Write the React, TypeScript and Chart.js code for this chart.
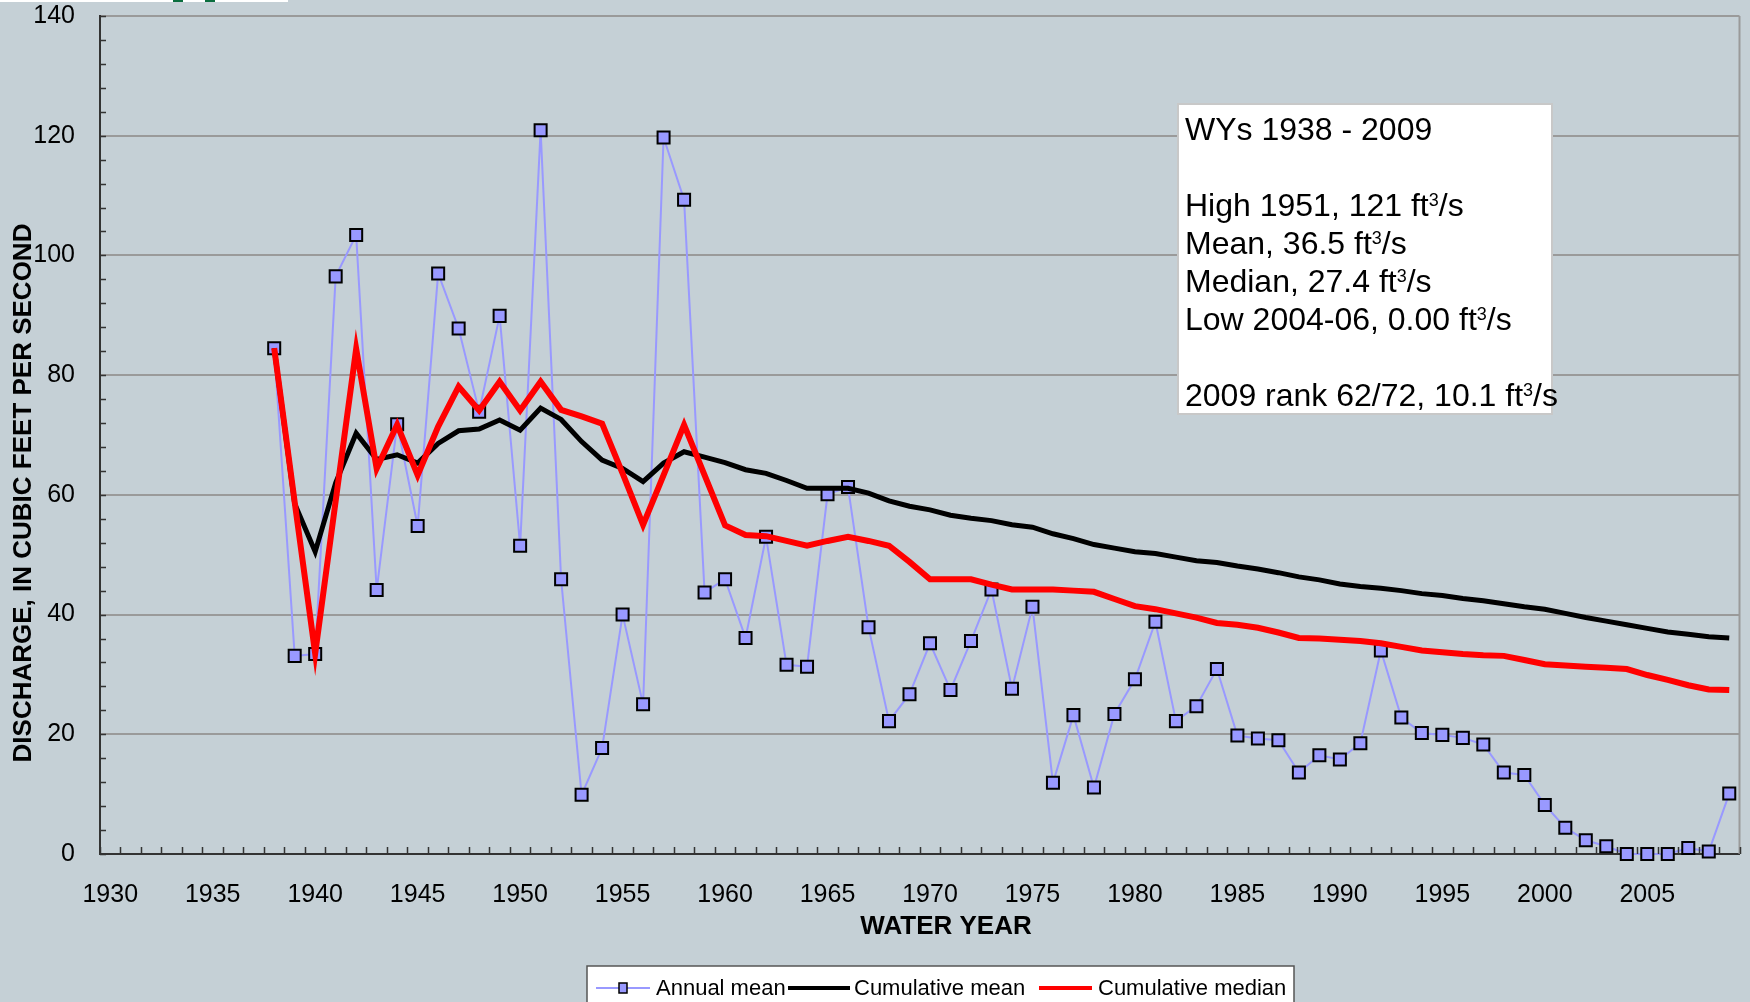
import React, { useEffect, useRef } from 'react';
import { Chart, registerables } from 'chart.js';

Chart.register(...registerables);

const FONT = '"Liberation Sans", Arial, Helvetica, sans-serif';

const years = [
  1938, 1939, 1940, 1941, 1942, 1943, 1944, 1945, 1946, 1947,
  1948, 1949, 1950, 1951, 1952, 1953, 1954, 1955, 1956, 1957,
  1958, 1959, 1960, 1961, 1962, 1963, 1964, 1965, 1966, 1967,
  1968, 1969, 1970, 1971, 1972, 1973, 1974, 1975, 1976, 1977,
  1978, 1979, 1980, 1981, 1982, 1983, 1984, 1985, 1986, 1987,
  1988, 1989, 1990, 1991, 1992, 1993, 1994, 1995, 1996, 1997,
  1998, 1999, 2000, 2001, 2002, 2003, 2004, 2005, 2006, 2007,
  2008, 2009,
];

const annualMean = [
  84.5, 33.1, 33.4, 96.5, 103.4, 44.1, 71.8, 54.8, 97.0, 87.8,
  73.9, 89.9, 51.5, 120.9, 45.9, 9.9, 17.7, 40.0, 25.0, 119.7,
  109.3, 43.7, 45.9, 36.1, 53.0, 31.6, 31.3, 60.1, 61.3, 37.9,
  22.2, 26.7, 35.2, 27.4, 35.6, 44.2, 27.6, 41.3, 11.9, 23.2,
  11.1, 23.4, 29.2, 38.8, 22.2, 24.7, 30.9, 19.8, 19.3, 19.0,
  13.6, 16.5, 15.8, 18.5, 34.0, 22.8, 20.2, 19.9, 19.4, 18.3,
  13.6, 13.2, 8.2, 4.4, 2.3, 1.3, 0.0, 0.0, 0.0, 1.0,
  0.4, 10.1,
];

const cumulativeMean = [
  84.5, 58.5, 50.5, 62.0, 70.3, 65.9, 66.7, 65.3, 68.6, 70.7,
  71.0, 72.5, 70.8, 74.5, 72.6, 68.9, 65.8, 64.4, 62.2, 65.3,
  67.2, 66.3, 65.4, 64.2, 63.6, 62.4, 61.1, 61.1, 61.1, 60.3,
  59.0, 58.1, 57.5, 56.6, 56.1, 55.7, 55.0, 54.6, 53.5, 52.7,
  51.7, 51.1, 50.5, 50.2, 49.6, 49.0, 48.7, 48.1, 47.6, 47.0,
  46.3, 45.8, 45.1, 44.7, 44.4, 44.0, 43.5, 43.2, 42.7, 42.3,
  41.8, 41.3, 40.9, 40.2, 39.5, 38.9, 38.3, 37.7, 37.1, 36.7,
  36.3, 36.1,
];

const cumulativeMedian = [
  84.5, 58.8, 33.5, 59.0, 84.4, 64.4, 71.7, 63.3, 71.4, 78.1,
  74.1, 78.9, 74.1, 78.9, 74.2, 73.1, 71.9, 63.6, 55.0, 63.3,
  71.7, 63.3, 54.9, 53.3, 53.1, 52.3, 51.5, 52.3, 53.0, 52.3,
  51.5, 48.8, 45.9, 45.9, 45.9, 45.0, 44.2, 44.2, 44.2, 44.0,
  43.8, 42.6, 41.4, 40.9, 40.2, 39.5, 38.6, 38.3, 37.8, 37.0,
  36.1, 36.0, 35.8, 35.6, 35.2, 34.6, 34.0, 33.7, 33.4, 33.2,
  33.1, 32.4, 31.7, 31.5, 31.3, 31.1, 30.9, 29.9, 29.1, 28.2,
  27.5, 27.4,
];

const xTickLabels = [1930, 1935, 1940, 1945, 1950, 1955, 1960, 1965, 1970, 1975, 1980, 1985, 1990, 1995, 2000, 2005];
const yTickValues = [0, 20, 40, 60, 80, 100, 120, 140];

const seriesLabels = ['Annual mean', 'Cumulative mean', 'Cumulative median'];
const xAxisTitle = 'WATER YEAR';
const yAxisTitle = 'DISCHARGE, IN CUBIC FEET PER SECOND';

const noteLines = [
  'WYs 1938 - 2009',
  '',
  'High 1951, 121 ft³/s',
  'Mean, 36.5 ft³/s',
  'Median, 27.4 ft³/s',
  'Low 2004-06, 0.00 ft³/s',
  '',
  '2009 rank 62/72, 10.1 ft³/s',
];

const BG = '#c5d0d6';
const GRID = '#9a9a9a';

function drawSupText(ctx: CanvasRenderingContext2D, text: string, x: number, y: number, size: number) {
  const parts = text.split('³');
  let cx = x;
  ctx.textAlign = 'left';
  ctx.textBaseline = 'alphabetic';
  parts.forEach((p, i) => {
    ctx.font = `${size}px ${FONT}`;
    ctx.fillText(p, cx, y);
    cx += ctx.measureText(p).width;
    if (i < parts.length - 1) {
      const s = Math.round(size * 0.55);
      ctx.font = `${s}px ${FONT}`;
      ctx.fillText('3', cx, y - size * 0.716 + s * 0.716);
      cx += ctx.measureText('3').width;
    }
  });
}

export default function App() {
  const ref = useRef<HTMLCanvasElement>(null);

  useEffect(() => {
    const canvas = ref.current;
    if (!canvas) return;
    const toPts = (vals: number[]) => years.map((y, i) => ({ x: y, y: vals[i] }));

    const decor = {
      id: 'decor',
      beforeDraw(chart: any) {
        const { ctx, width, height } = chart;
        ctx.save();
        ctx.fillStyle = BG;
        ctx.fillRect(0, 0, width, height);
        // clipped header strip at the very top
        ctx.fillStyle = '#ffffff';
        ctx.fillRect(0, 0, 288, 2);
        ctx.fillStyle = '#0b6e3f';
        ctx.fillRect(173, 0, 10, 2);
        ctx.fillRect(205, 0, 10, 2);
        ctx.restore();
      },
      afterDraw(chart: any) {
        const { ctx, chartArea } = chart;
        const xs = chart.scales.x;
        const ys = chart.scales.y;
        ctx.save();
        // right border
        ctx.strokeStyle = GRID;
        ctx.lineWidth = 2;
        ctx.beginPath();
        ctx.moveTo(chartArea.right, chartArea.top);
        ctx.lineTo(chartArea.right, chartArea.bottom);
        ctx.stroke();
        // inner tick marks
        ctx.strokeStyle = '#333333';
        ctx.lineWidth = 1.5;
        ctx.beginPath();
        for (let v = 0; v <= 140; v += 4) {
          const py = Math.round(ys.getPixelForValue(v)) + 0.5;
          ctx.moveTo(chartArea.left, py);
          ctx.lineTo(chartArea.left + 6, py);
        }
        for (let k = 1929.5; k <= 2009.5; k += 1) {
          const px = Math.round(xs.getPixelForValue(k)) + 0.5;
          ctx.moveTo(px, chartArea.bottom);
          ctx.lineTo(px, chartArea.bottom - 7);
        }
        ctx.stroke();

        // axis titles
        ctx.fillStyle = '#000000';
        ctx.font = `bold 26px ${FONT}`;
        ctx.textAlign = 'center';
        ctx.textBaseline = 'middle';
        ctx.fillText(xAxisTitle, 946, 927);
        ctx.save();
        ctx.translate(24, 493);
        ctx.rotate(-Math.PI / 2);
        ctx.fillText(yAxisTitle, 0, 0);
        ctx.restore();

        // note box
        ctx.fillStyle = '#ffffff';
        ctx.fillRect(1178, 104, 374, 310);
        ctx.strokeStyle = '#c8c8c8';
        ctx.lineWidth = 2;
        ctx.strokeRect(1178, 104, 374, 310);
        ctx.fillStyle = '#000000';
        noteLines.forEach((line, i) => {
          if (line) drawSupText(ctx, line, 1185, 140 + 38 * i, 32);
        });

        // legend
        const ds = chart.data.datasets;
        ctx.fillStyle = '#ffffff';
        ctx.fillRect(587, 966, 707, 50);
        ctx.strokeStyle = '#555555';
        ctx.lineWidth = 1.5;
        ctx.strokeRect(587, 966, 707, 50);
        const items = [
          { x0: 596, x1: 650, tx: 656 },
          { x0: 788, x1: 850, tx: 854 },
          { x0: 1039, x1: 1092, tx: 1098 },
        ];
        const ly = 988;
        items.forEach((it, i) => {
          const d = ds[i];
          ctx.strokeStyle = d.borderColor;
          ctx.lineWidth = i === 0 ? 2 : 4;
          ctx.beginPath();
          ctx.moveTo(it.x0, ly);
          ctx.lineTo(it.x1, ly);
          ctx.stroke();
          if (i === 0) {
            const cx = (it.x0 + it.x1) / 2;
            ctx.fillStyle = d.pointBackgroundColor;
            ctx.fillRect(cx - 4, ly - 5, 8, 10);
            ctx.strokeStyle = '#000000';
            ctx.lineWidth = 1.5;
            ctx.strokeRect(cx - 4, ly - 5, 8, 10);
          }
          ctx.fillStyle = '#000000';
          ctx.font = `22px ${FONT}`;
          ctx.textAlign = 'left';
          ctx.textBaseline = 'alphabetic';
          ctx.fillText(d.label, it.tx, 995);
        });
        ctx.restore();
      },
    };

    const chart = new Chart(canvas, {
      type: 'line',
      data: {
        datasets: [
          {
            label: seriesLabels[0],
            data: toPts(annualMean),
            borderColor: '#9999ff',
            backgroundColor: '#9999ff',
            borderWidth: 2,
            pointStyle: 'rect',
            pointRadius: 8.5,
            pointBackgroundColor: '#9999ff',
            pointBorderColor: '#000000',
            pointBorderWidth: 2,
            tension: 0,
            clip: false,
            order: 3,
          },
          {
            label: seriesLabels[1],
            data: toPts(cumulativeMean),
            borderColor: '#000000',
            backgroundColor: '#000000',
            borderWidth: 5,
            pointRadius: 0,
            tension: 0,
            order: 2,
          },
          {
            label: seriesLabels[2],
            data: toPts(cumulativeMedian),
            borderColor: '#ff0000',
            backgroundColor: '#ff0000',
            borderWidth: 6,
            pointRadius: 0,
            tension: 0,
            order: 1,
          },
        ] as any,
      },
      options: {
        responsive: false,
        maintainAspectRatio: false,
        animation: false,
        events: [],
        layout: { padding: { left: 0, right: 6, top: 16, bottom: 0 } },
        plugins: {
          legend: { display: false },
          tooltip: { enabled: false },
        },
        scales: {
          x: {
            type: 'linear',
            min: 1929.5,
            max: 2009.5,
            afterBuildTicks: (scale: any) => {
              scale.ticks = xTickLabels.map((v) => ({ value: v }));
            },
            afterFit: (scale: any) => {
              scale.height = 148;
              scale.paddingLeft = 0;
              scale.paddingRight = 0;
            },
            grid: { display: false, drawTicks: false },
            border: { display: true, color: '#333333', width: 2 },
            ticks: {
              autoSkip: false,
              maxRotation: 0,
              padding: 26,
              color: '#000000',
              font: { family: FONT, size: 25 },
              callback: (v: any) => String(v),
            },
          },
          y: {
            type: 'linear',
            min: 0,
            max: 140,
            afterBuildTicks: (scale: any) => {
              scale.ticks = yTickValues.map((v) => ({ value: v }));
            },
            afterFit: (scale: any) => {
              scale.width = 100;
              scale.paddingTop = 0;
              scale.paddingBottom = 0;
            },
            grid: {
              drawTicks: false,
              lineWidth: 2,
              color: (c: any) => (c.tick && c.tick.value > 0 ? GRID : 'rgba(0,0,0,0)'),
            },
            border: { display: true, color: '#333333', width: 2 },
            ticks: {
              padding: 25,
              color: '#000000',
              font: { family: FONT, size: 25 },
              callback: (v: any) => String(v),
            },
          },
        },
      } as any,
      plugins: [decor],
    });

    return () => chart.destroy();
  }, []);

  return (
    <div style={{ position: 'fixed', left: 0, top: 0, width: 1750, height: 1002, overflow: 'hidden', background: BG }}>
      <canvas ref={ref} width={1750} height={1002} style={{ display: 'block', width: 1750, height: 1002 }} />
    </div>
  );
}
